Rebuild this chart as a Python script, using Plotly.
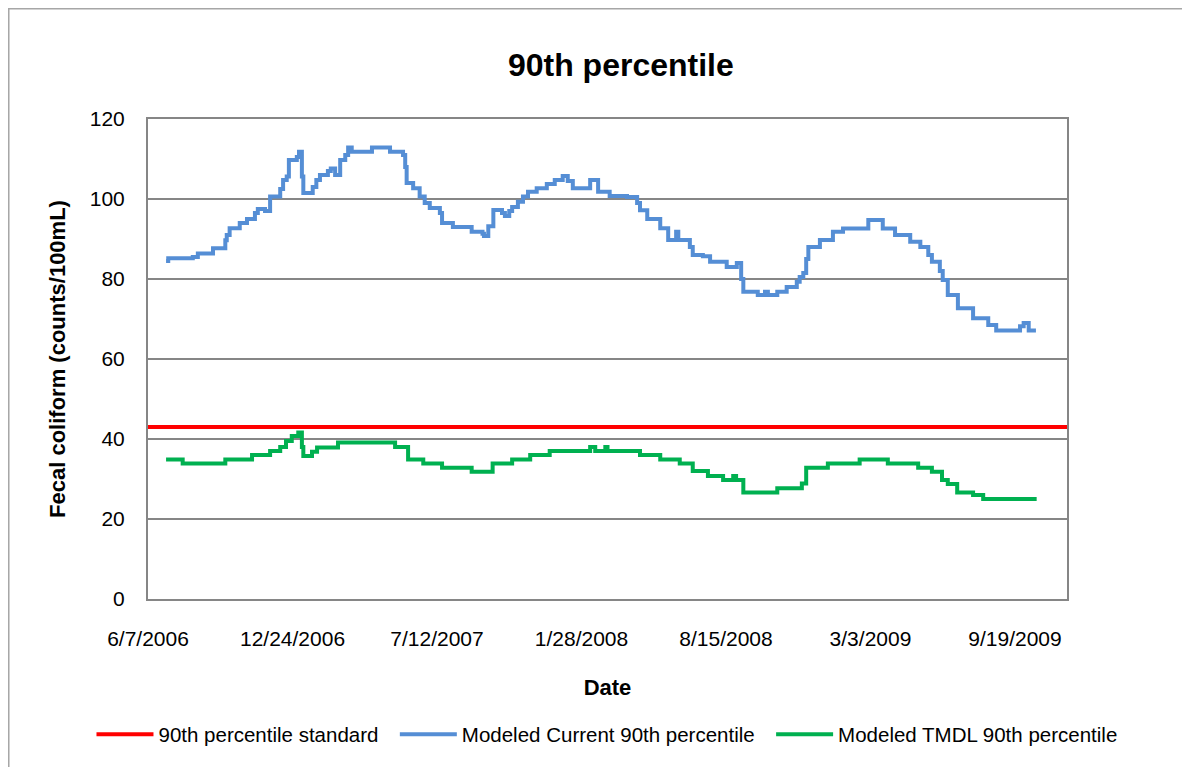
import pandas as pd
import plotly.graph_objects as go

# dates as Excel serial day numbers (6/7/2006 = 38875)
axis_start = 38875
axis_end = 40147
tick_step = 200

standard_value = 43

current_days = [38900, 38903, 38937, 38944, 38965, 38982, 38984, 38988, 39002, 39012,
                39023, 39027, 39037, 39044, 39058, 39062, 39067, 39070, 39081, 39084,
                39088, 39090, 39103, 39108, 39113, 39124, 39128, 39134, 39141, 39148,
                39152, 39157, 39185, 39210, 39228, 39231, 39233, 39242, 39251, 39258,
                39265, 39279, 39282, 39297, 39323, 39338, 39340, 39346, 39353, 39365,
                39369, 39375, 39379, 39387, 39394, 39401, 39413, 39427, 39438, 39449,
                39456, 39463, 39487, 39498, 39514, 39538, 39552, 39556, 39566, 39584,
                39595, 39606, 39609, 39625, 39629, 39643, 39653, 39676, 39690, 39696,
                39699, 39719, 39729, 39733, 39746, 39759, 39773, 39777, 39782, 39786,
                39789, 39805, 39823, 39837, 39872, 39892, 39909, 39930, 39944, 39955,
                39960, 39971, 39975, 39982, 39996, 40017, 40038, 40049, 40082, 40087,
                40094, 40104]
current_vals = [84.5, 85.2, 85.5, 86.4, 87.7, 89.7, 91, 92.7, 94, 95,
                96.5, 97.5, 97, 100.6, 102.5, 104.75, 105.6, 109.75, 110.5, 111.8,
                105.6, 101.5, 103, 104.75, 106, 107, 107.6, 106, 109.75, 111,
                112.9, 111.8, 112.9, 111.8, 111, 108, 104, 102.7, 100.6, 99,
                97.75, 96.5, 94, 93, 91.8, 91.3, 90.75, 93.2, 97.25, 96.5,
                95.75, 97, 98, 99.3, 100.6, 101.8, 102.7, 103.75, 104.75, 105.75,
                104.5, 102.7, 104.75, 101.8, 100.75, 100.5, 99, 97.2, 95, 92.7,
                89.75, 91.8, 89.75, 88, 86, 85.7, 84.3, 83, 84, 80,
                76.8, 76, 76.8, 76, 76.8, 78, 79.3, 80.5, 81.5, 85,
                88, 89.75, 91.8, 92.6, 94.75, 92.6, 91, 89.3, 88, 86,
                84.3, 82, 79.75, 76, 72.7, 70.2, 68.5, 67.1, 68.2, 69,
                67.1, 67.1]

tmdl_days = [38900, 38923, 38982, 39019, 39044, 39058, 39066, 39074, 39083, 39088,
             39090, 39102, 39109, 39138, 39217, 39235, 39256, 39282, 39323, 39352,
             39379, 39404, 39431, 39487, 39494, 39508, 39511, 39556, 39584, 39611,
             39629, 39650, 39671, 39685, 39689, 39699, 39746, 39780, 39786, 39816,
             39860, 39899, 39941, 39960, 39974, 39982, 39995, 40017, 40031, 40105]
tmdl_vals = [34.9, 33.9, 34.9, 36, 37, 38, 39.5, 40.75, 41.6, 38,
             35.75, 36.8, 37.9, 39.1, 38, 34.9, 33.9, 32.8, 31.8, 33.9,
             34.9, 36, 37, 38, 37, 38, 37, 36, 34.9, 33.9,
             32, 30.75, 29.75, 30.75, 29.75, 26.6, 27.7, 28.9, 32.8, 33.9,
             34.9, 33.9, 32.8, 31.8, 29.75, 28.75, 26.6, 26, 25, 25]


def to_date(serial):
    return pd.to_datetime(serial, unit='D', origin='1899-12-30')


x_start = to_date(axis_start)
x_end = to_date(axis_end)
tick_dates = [to_date(d) for d in range(axis_start, axis_end, tick_step)]
tick_text = [f"{d.month}/{d.day}/{d.year}" for d in tick_dates]

font_family = "Arial, 'Liberation Sans', sans-serif"
pad = '&nbsp;&nbsp;'  # extra room between legend entries

fig = go.Figure()
fig.add_trace(go.Scatter(x=[x_start, x_end], y=[standard_value, standard_value],
                         mode='lines', name='90th percentile standard' + pad,
                         line=dict(color='#FF0000', width=4)))
fig.add_trace(go.Scatter(x=to_date(pd.Series(current_days)), y=current_vals,
                         mode='lines', name='Modeled Current 90th percentile' + pad,
                         line=dict(color='#558ED5', width=4, shape='hv')))
fig.add_trace(go.Scatter(x=to_date(pd.Series(tmdl_days)), y=tmdl_vals,
                         mode='lines', name='Modeled TMDL 90th percentile',
                         line=dict(color='#00B050', width=4, shape='hv')))

# outer chart border (cropped on the right and bottom)
fig.add_shape(type='rect', xref='paper', yref='paper',
              x0=-0.1515, x1=1.3, y0=1.2297, y1=-0.5,
              line=dict(color='#A6A6A6', width=1.5), layer='below')

fig.update_layout(
    width=1190, height=767,
    margin=dict(l=140, r=131, t=111, b=176),
    paper_bgcolor='white', plot_bgcolor='white',
    font=dict(family=font_family, size=21, color='black'),
    title=dict(text='<b>90th percentile</b>', x=0.515, xref='container',
               y=0.9257, yref='container', xanchor='center', yanchor='middle',
               font=dict(size=32, color='black')),
    showlegend=True,
    legend=dict(orientation='h', x=-0.0615, xanchor='left', y=-0.282, yanchor='middle',
                font=dict(size=20.5), itemwidth=57, bgcolor='rgba(0,0,0,0)'),
)
fig.update_xaxes(
    type='date', range=[x_start, x_end],
    tickvals=tick_dates, ticktext=tick_text, ticks='',
    ticklabelstandoff=20,
    showgrid=False, zeroline=False,
    showline=True, linecolor='#868686', linewidth=2, mirror=True,
    title=dict(text='<b>Date</b>', standoff=30, font=dict(size=22)),
)
fig.update_yaxes(
    range=[0, 120], dtick=20, ticks='',
    ticklabelstandoff=17,
    showgrid=True, gridcolor='#868686', gridwidth=1.5, zeroline=False,
    showline=True, linecolor='#868686', linewidth=2, mirror=True,
    title=dict(text='<b>Fecal coliform (counts/100mL)</b>', standoff=18, font=dict(size=22)),
)

fig.write_html("out.html")
